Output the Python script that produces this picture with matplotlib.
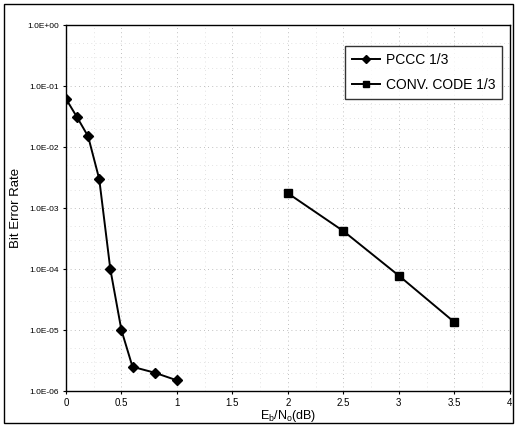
import numpy as np
import matplotlib
matplotlib.use('Agg')
import matplotlib.pyplot as plt
from matplotlib.patches import Rectangle

plt.rcParams['font.family'] = ['Liberation Sans', 'DejaVu Sans']

# Datos
pccc_x = [0, 0.1, 0.2, 0.3, 0.4, 0.5, 0.6, 0.8, 1.0]
pccc_ber = [6.2e-2, 3.1e-2, 1.5e-2, 3.0e-3, 1.0e-4, 1.0e-5, 2.5e-6, 2.0e-6, 1.5e-6]

conv_x = [2.0, 2.5, 3.0, 3.5]
conv_ber = [1.75e-3, 4.2e-4, 7.8e-5, 1.35e-5]

y_ticks = [1e0, 1e-1, 1e-2, 1e-3, 1e-4, 1e-5, 1e-6]
y_labels = ['1.0E+00', '1.0E-01', '1.0E-02', '1.0E-03', '1.0E-04', '1.0E-05', '1.0E-06']
x_ticks = [0, 0.5, 1, 1.5, 2, 2.5, 3, 3.5, 4]
x_labels = ['0', '0.5', '1', '1.5', '2', '2.5', '3', '3.5', '4']

fig = plt.figure(figsize=(5.15, 4.26), dpi=100)
ax = fig.add_axes([0.128, 0.082, 0.862, 0.859])

# Grafica
ax.plot(pccc_x, pccc_ber, color='black', lw=1.4, marker='D', ms=5.5, label='PCCC 1/3')
ax.plot(conv_x, conv_ber, color='black', lw=1.4, marker='s', ms=6, label='CONV. CODE 1/3')

ax.set_yscale('log')
ax.set_ylim(1e-6, 1e0)
ax.set_xlim(0, 4)
ax.set_yticks(y_ticks)
ax.set_yticklabels(y_labels, fontsize=6)
ax.minorticks_off()
ax.set_xticks(x_ticks)
ax.set_xticklabels(x_labels, fontsize=7)
ax.tick_params(length=2, width=0.8, pad=3)

# grid punteado tenue
ax.grid(True, which='major', ls=(0, (1, 4)), color='#aaaaaa', lw=0.6)
for v in [0.25, 0.75, 1.25, 1.75, 2.25, 2.75, 3.25, 3.75]:
    ax.axvline(v, ls=(0, (1, 5)), color='#c8c8c8', lw=0.5, zorder=0)
for d in range(-6, 0):
    for m in [2, 3, 5]:
        ax.axhline(m * 10.0**d, ls=(0, (1, 5)), color='#c8c8c8', lw=0.5, zorder=0)

for s in ax.spines.values():
    s.set_linewidth(1.0)

ax.set_ylabel('Bit Error Rate', fontsize=9.5)
ax.yaxis.set_label_coords(-0.098, 0.5)
ax.set_xlabel('E$_\\mathregular{b}$/N$_\\mathregular{o}$(dB)', fontsize=9, labelpad=0)

leg = ax.legend(loc='upper right', fontsize=10, frameon=True, fancybox=False,
                edgecolor='black', handlelength=2.0, borderpad=0.5,
                labelspacing=0.8, handletextpad=0.4, markerscale=0.8,
                bbox_to_anchor=(0.998, 0.963))
leg.get_frame().set_linewidth(1.0)

fig.patches.append(Rectangle((0.008, 0.006), 0.988, 0.984, transform=fig.transFigure,
                             fill=False, edgecolor='black', lw=1.0))

fig.savefig('out.png', dpi=100)
